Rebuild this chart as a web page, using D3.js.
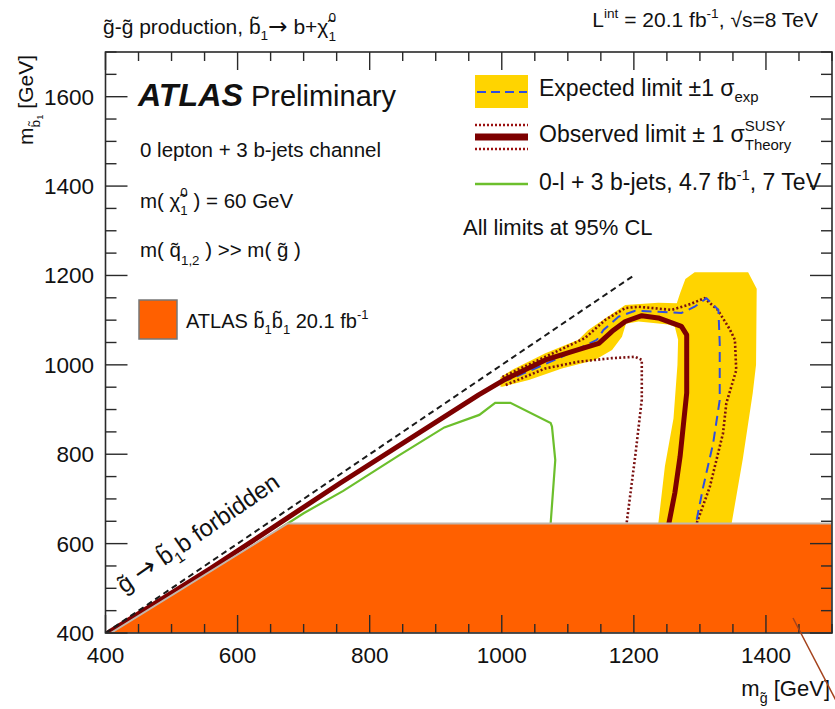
<!DOCTYPE html>
<html>
<head>
<meta charset="utf-8">
<script src="https://cdn.jsdelivr.net/npm/d3@7"></script>
<style>
  body { margin: 0; background: #fff; }
  svg { display: block; }
  text { font-family: "Liberation Sans", Arial, Helvetica, sans-serif; fill: #111; white-space: pre; }
</style>
</head>
<body>
<svg id="chart" width="835" height="709"></svg>
<script>
// Axis ranges (GeV) and tick labels
const xDomain = [400, 1500];
const yDomain = [400, 1700];
const xTickLabels = [400, 600, 800, 1000, 1200, 1400];
const yTickLabels = [400, 600, 800, 1000, 1200, 1400, 1600];

// Kinematic boundary m(sbottom) = m(gluino)
const kinematicLine = [[400, 400], [1200, 1200]];

// Expected limit +-1 sigma band (outer edge, then inner edge back)
const expectedBandOuter = [[998, 972], [1016, 989], [1066, 1026], [1116, 1056], [1131, 1078], [1157, 1104],
  [1187, 1134], [1237, 1139], [1265, 1138], [1270, 1160], [1278, 1192], [1292, 1207], [1373, 1207],
  [1386, 1170], [1385, 1000], [1380, 937], [1365, 790], [1348, 645], [1345, 600]];
const expectedBandInner = [[1235, 600], [1237, 645], [1247, 773], [1260, 880], [1266, 1000], [1267, 1056],
  [1262, 1085], [1252, 1090], [1207, 1097], [1188, 1092], [1182, 1063], [1167, 1033], [1141, 1011],
  [1091, 992], [1041, 966], [1001, 951], [998, 951]];

// Expected limit
const expectedLimit = [[1000, 962], [1016, 970], [1091, 1018], [1144, 1056], [1154, 1078], [1177, 1108],
  [1202, 1121], [1237, 1119], [1272, 1116], [1292, 1130], [1310, 1149], [1328, 1123], [1330, 1048],
  [1330, 921], [1320, 824], [1305, 727], [1294, 645], [1292, 600]];

// Observed limit
const observedLimit = [[400, 397], [560, 545], [755, 735], [965, 933], [1003, 966], [1066, 1011],
  [1111, 1032], [1147, 1048], [1167, 1075], [1187, 1097], [1212, 1110], [1237, 1105], [1272, 1086],
  [1280, 1067], [1280, 937], [1270, 795], [1262, 713], [1253, 645], [1251, 600]];

// Observed limit +1 sigma theory
const observedUp = [[1001, 973], [1066, 1018], [1126, 1060], [1157, 1101], [1187, 1127], [1207, 1130],
  [1257, 1123], [1282, 1134], [1307, 1149], [1327, 1123], [1345, 1080], [1353, 1056], [1355, 988],
  [1340, 914], [1335, 847], [1315, 727], [1295, 645], [1293, 600]];

// Observed limit -1 sigma theory
const observedDown = [[1006, 955], [1066, 992], [1116, 1007], [1167, 1015], [1202, 1018], [1212, 1011],
  [1212, 922], [1202, 795], [1189, 645], [1187, 600]];

// 0-lepton + 3 b-jets, 4.7 fb-1, 7 TeV
const previousLimit = [[660, 630], [700, 668], [760, 718], [845, 798], [913, 860], [966, 888], [990, 915],
  [1013, 915], [1074, 870], [1076, 862], [1081, 787], [1074, 645], [1073, 600]];

// ATLAS sbottom pair production exclusion, 20.1 fb-1
const sbottomPairRegion = [[408, 400], [676, 645], [1500, 645], [1500, 400]];

const svg = d3.select("#chart");
const x = d3.scaleLinear().domain(xDomain).range([105.5, 832]);
const y = d3.scaleLinear().domain(yDomain).range([633, 52]);
const line = d3.line().x(d => x(d[0])).y(d => y(d[1]));

const ORANGE = "#ff6000", YELLOW = "#ffd400", DARKRED = "#7d0000", BLUE = "#2f4de0", GREEN = "#6cbf2c";

const plot = svg.append("g");
plot.append("defs").append("clipPath").attr("id", "area")
  .append("rect").attr("x", x(400)).attr("y", y(1700)).attr("width", x(1500) - x(400)).attr("height", y(400) - y(1700));
const inner = plot.append("g").attr("clip-path", "url(#area)");

// expected band
inner.append("path").attr("d", line(expectedBandOuter.concat(expectedBandInner)) + "Z")
  .attr("fill", YELLOW).attr("stroke", "none");

// theory variations of the observed limit
[observedDown, observedUp].forEach(c => {
  inner.append("path").attr("d", line(c)).attr("fill", "none")
    .attr("stroke", "#7a1010").attr("stroke-width", 2.6).attr("stroke-dasharray", "2,2.2");
});

// expected limit
inner.append("path").attr("d", line(expectedLimit)).attr("fill", "none")
  .attr("stroke", BLUE).attr("stroke-width", 2).attr("stroke-dasharray", "10,6");

// previous 7 TeV result
inner.append("path").attr("d", line(previousLimit)).attr("fill", "none")
  .attr("stroke", GREEN).attr("stroke-width", 2.2);

// observed limit
inner.append("path").attr("d", line(observedLimit)).attr("fill", "none")
  .attr("stroke", DARKRED).attr("stroke-width", 5).attr("stroke-linejoin", "round");

// kinematic boundary
inner.append("path").attr("d", line(kinematicLine)).attr("fill", "none")
  .attr("stroke", "#1a1a1a").attr("stroke-width", 2).attr("stroke-dasharray", "6,4");

// sbottom pair region
inner.append("path").attr("d", line(sbottomPairRegion) + "Z")
  .attr("fill", ORANGE).attr("stroke", "#c2b6ac").attr("stroke-width", 2);

// frame and ticks
const AX = "#2a2a2a";
plot.append("rect").attr("x", x(400)).attr("y", y(1700)).attr("width", x(1500) - x(400)).attr("height", y(400) - y(1700))
  .attr("fill", "none").attr("stroke", AX).attr("stroke-width", 1.6);

const xMinor = d3.range(400, 1501, 50);
const yMinor = d3.range(400, 1701, 50);
const tk = plot.append("g").attr("stroke", AX).attr("stroke-width", 1.4);
xMinor.forEach(v => {
  const L = v % 200 === 0 ? 18 : 9;
  tk.append("line").attr("x1", x(v)).attr("x2", x(v)).attr("y1", y(400)).attr("y2", y(400) - L);
  tk.append("line").attr("x1", x(v)).attr("x2", x(v)).attr("y1", y(1700)).attr("y2", y(1700) + L);
});
yMinor.forEach(v => {
  const L = v % 200 === 0 ? 22 : 11;
  tk.append("line").attr("y1", y(v)).attr("y2", y(v)).attr("x1", x(400)).attr("x2", x(400) + L);
  tk.append("line").attr("y1", y(v)).attr("y2", y(v)).attr("x1", x(1500)).attr("x2", x(1500) - L);
});

const lab = svg.append("g").style("font-size", "22.5px");
xTickLabels.forEach(v => lab.append("text").attr("x", x(v)).attr("y", 663).attr("text-anchor", "middle").text(v));
yTickLabels.forEach(v => lab.append("text").attr("x", 94).attr("y", y(v) + 8).attr("text-anchor", "end").text(v));

// text with sub/superscripts: parts laid out one after another
function rich(parent, px, py, size, parts, opts = {}) {
  const g = parent.append("g");
  const body = g.append("g");
  let cx = 0, lastStart = 0;
  parts.forEach(p => {
    const t = body.append("text")
      .attr("y", (p.dy || 0) * size)
      .style("font-size", (size * (p.sc || 1)) + "px")
      .text(p.t);
    if (p.fw) t.style("font-weight", p.fw);
    if (p.fs) t.style("font-style", p.fs);
    if (p.ff) t.style("font-family", p.ff);
    const start = p.stack ? lastStart : cx + (p.dx || 0) * size;
    t.attr("x", start);
    const w = t.node().getComputedTextLength();
    if (p.stack) cx = Math.max(cx, start + w);
    else { lastStart = start; cx = start + w; }
  });
  const shift = opts.anchor === "end" ? -cx : 0;
  body.attr("transform", `translate(${shift},0)`);
  g.attr("transform", `translate(${px},${py})` + (opts.rotate ? ` rotate(${opts.rotate})` : ""));
  return g;
}
const T = "\u0303";
const SUB = 0.28, SUP = -0.45, SC = 0.65;
const ARROW = { t: "\u2192", ff: "DejaVu Sans", sc: 1.1 };

// header
rich(svg, 103, 34, 21, [
  { t: "g" + T + "-g" + T + " production, b" + T },
  { t: "1", sc: SC, dy: SUB },
  ARROW,
  { t: " b+\u03c7" + T },
  { t: "1", sc: SC, dy: SUB + 0.05 },
  { t: "0", sc: SC, dy: SUP - 0.1, stack: true }
]);
rich(svg, 818, 27, 21, [
  { t: "L" }, { t: "int", sc: SC, dy: SUP }, { t: " = 20.1 fb" }, { t: "-1", sc: SC, dy: SUP },
  { t: ", \u221As=8 TeV" }
], { anchor: "end" });

// ATLAS label and analysis info
rich(svg, 138, 106, 29, [{ t: "ATLAS", fw: "bold", fs: "italic", sc: 1.11 }, { t: " Preliminary" }]);
rich(svg, 140, 157, 20.5, [{ t: "0 lepton + 3 b-jets channel" }]);
rich(svg, 140, 208, 20.5, [
  { t: "m( \u03c7" + T }, { t: "1", sc: SC, dy: SUB + 0.05 }, { t: "0", sc: SC, dy: SUP - 0.1, stack: true },
  { t: " ) = 60 GeV" }
]);
rich(svg, 140, 257, 20.5, [
  { t: "m( q" + T }, { t: "1,2", sc: SC, dy: SUB + 0.1 }, { t: " ) >> m( g" + T + " )" }
]);

// sbottom pair legend entry
svg.append("rect").attr("x", 139).attr("y", 300).attr("width", 38).attr("height", 39)
  .attr("fill", ORANGE).attr("stroke", "#777").attr("stroke-width", 1.5);
rich(svg, 186, 328, 20, [
  { t: "ATLAS b" + T }, { t: "1", sc: SC, dy: SUB }, { t: "b" + T }, { t: "1", sc: SC, dy: SUB },
  { t: " 20.1 fb" }, { t: "-1", sc: SC, dy: SUP }
]);

// limit legend
const lg = svg.append("g");
lg.append("rect").attr("x", 475).attr("y", 75).attr("width", 53).attr("height", 33).attr("fill", YELLOW);
lg.append("line").attr("x1", 477).attr("x2", 527).attr("y1", 92).attr("y2", 92)
  .attr("stroke", BLUE).attr("stroke-width", 2).attr("stroke-dasharray", "9,5");
[125, 149].forEach(yy => lg.append("line").attr("x1", 475).attr("x2", 528).attr("y1", yy).attr("y2", yy)
  .attr("stroke", "#9a1010").attr("stroke-width", 2.4).attr("stroke-dasharray", "2,2"));
lg.append("line").attr("x1", 475).attr("x2", 528).attr("y1", 137).attr("y2", 137)
  .attr("stroke", DARKRED).attr("stroke-width", 7);
lg.append("line").attr("x1", 475).attr("x2", 528).attr("y1", 184).attr("y2", 184)
  .attr("stroke", GREEN).attr("stroke-width", 2.4);

rich(svg, 539, 96, 23, [{ t: "Expected limit \u00b11 \u03c3" }, { t: "exp", sc: SC, dy: SUB }]);
rich(svg, 539, 142, 23, [
  { t: "Observed limit \u00b1 1 \u03c3" }, { t: "SUSY", sc: SC, dy: SUP - 0.05 }, { t: "Theory", sc: SC, dy: SUB + 0.05, stack: true }
]);
rich(svg, 539, 190, 23, [{ t: "0-l + 3 b-jets, 4.7 fb" }, { t: "-1", sc: SC, dy: SUP }, { t: ", 7 TeV" }]);
rich(svg, 463, 235, 22, [{ t: "All limits at 95% CL" }]);

// kinematic boundary label
rich(svg, 124, 594, 24, [
  { t: "g" + T + " " }, ARROW, { t: " b" + T }, { t: "1", sc: SC, dy: SUB }, { t: "b forbidden" }
], { rotate: -34.5 });

// axis titles
rich(svg, 33, 55, 21, [
  { t: "m" }, { t: "b" + T, sc: SC, dy: SUB + 0.05 }, { t: "1", sc: 0.45, dy: SUB + 0.2 }, { t: " [GeV]" }
], { anchor: "end", rotate: -90 });
rich(svg, 830, 696, 22, [{ t: "m" }, { t: "g" + T, sc: SC, dy: SUB + 0.05 }, { t: " [GeV]" }], { anchor: "end" });

// pointer line at the lower right
svg.append("line").attr("x1", 793).attr("y1", 618).attr("x2", 842).attr("y2", 712)
  .attr("stroke", "#a4421c").attr("stroke-width", 1.5);
</script>
</body>
</html>
